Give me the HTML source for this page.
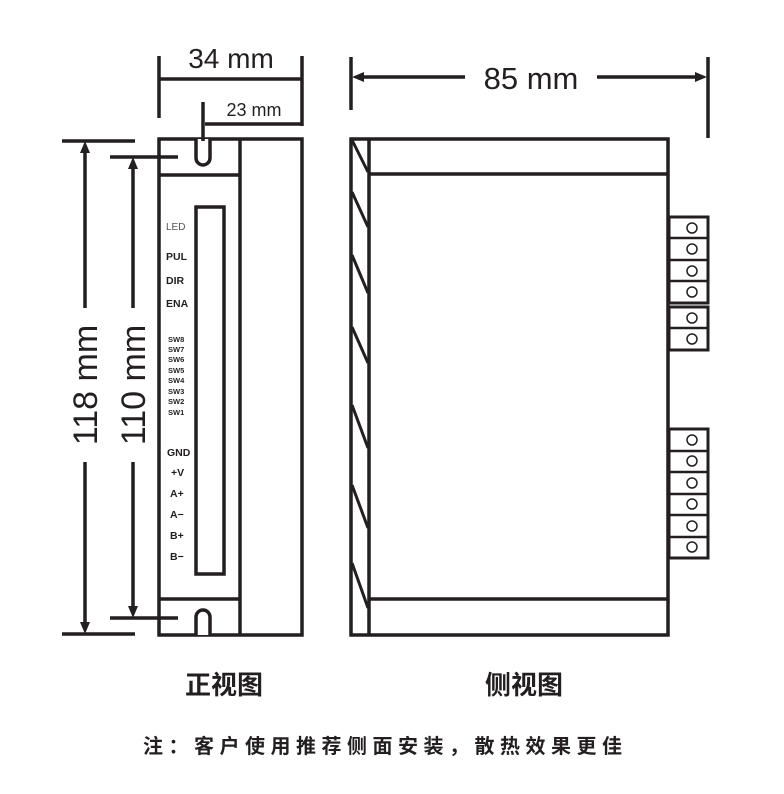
<!DOCTYPE html>
<html><head><meta charset="utf-8"><style>
body{margin:0;background:#fff;width:784px;height:794px;overflow:hidden}
svg{display:block}
.t{font-family:"Liberation Sans","Noto Sans CJK SC",sans-serif;fill:#231f20}
.c{font-family:"Noto Sans CJK SC",sans-serif;font-weight:bold;fill:#231f20}
.l{font-family:"Liberation Sans",sans-serif;font-weight:bold;fill:#231f20;font-size:10.5px}
.s{font-family:"Liberation Sans",sans-serif;font-weight:bold;fill:#231f20;font-size:7.5px}
</style></head><body>
<svg width="784" height="794" viewBox="0 0 784 794" xmlns="http://www.w3.org/2000/svg">
<g stroke="#231f20" stroke-width="3.5" fill="none">
<rect x="159" y="139" width="143" height="496"/>
<line x1="240" y1="139" x2="240" y2="635"/>
<line x1="159" y1="175" x2="240" y2="175"/>
<line x1="159" y1="599" x2="240" y2="599"/>
<path d="M196 139 V158 a7 7 0 0 0 14 0 V139" fill="#fff"/>
<path d="M196 635 V617 a7 7 0 0 1 14 0 V635" fill="#fff"/>
<rect x="196" y="207" width="28" height="367"/>
<line x1="159" y1="56" x2="159" y2="118"/>
<line x1="302" y1="56" x2="302" y2="126"/>
<line x1="159" y1="79" x2="302" y2="79"/>
<line x1="203" y1="102" x2="203" y2="141"/>
<line x1="205" y1="124" x2="302" y2="124"/>
<line x1="62" y1="141" x2="135" y2="141"/>
<line x1="62" y1="634" x2="135" y2="634"/>
<line x1="85" y1="150" x2="85" y2="308"/>
<line x1="85" y1="462" x2="85" y2="625"/>
<line x1="110" y1="157" x2="178" y2="157"/>
<line x1="110" y1="618" x2="178" y2="618"/>
<line x1="133" y1="166" x2="133" y2="308"/>
<line x1="133" y1="462" x2="133" y2="609"/>
<rect x="351" y="139" width="317" height="496"/>
<line x1="369" y1="139" x2="369" y2="635"/>
<line x1="369" y1="174" x2="668" y2="174"/>
<line x1="369" y1="599" x2="668" y2="599"/>
<line x1="351" y1="57" x2="351" y2="110"/>
<line x1="708" y1="57" x2="708" y2="138"/>
<line x1="360" y1="77" x2="465" y2="77"/>
<line x1="597" y1="77" x2="698" y2="77"/>
</g>
<g stroke="#231f20" stroke-width="3" fill="none">
<line x1="352" y1="140" x2="368" y2="172"/>
<line x1="352" y1="192" x2="368" y2="227"/>
<line x1="352" y1="255" x2="368" y2="293"/>
<line x1="352" y1="327" x2="368" y2="363"/>
<line x1="352" y1="405" x2="368" y2="448"/>
<line x1="352" y1="485" x2="368" y2="528"/>
<line x1="352" y1="563" x2="368" y2="608"/>
</g>
<g fill="#231f20">
<path d="M85 141 l-5 12 h10z"/><path d="M85 634 l-5 -12 h10z"/>
<path d="M133 157 l-5 12 h10z"/><path d="M133 618 l-5 -12 h10z"/>
<path d="M352 77 l12 -5 v10z"/><path d="M707 77 l-12 -5 v10z"/>
</g>
<g stroke="#231f20" stroke-width="3" fill="#fff">
<rect x="669" y="217" width="39" height="86"/>
<rect x="669" y="307" width="39" height="43"/>
<rect x="669" y="429" width="39" height="129"/>
</g>
<g stroke="#231f20" stroke-width="2.5">
<line x1="669" y1="238" x2="708" y2="238"/><line x1="669" y1="260" x2="708" y2="260"/><line x1="669" y1="281" x2="708" y2="281"/>
<line x1="669" y1="328" x2="708" y2="328"/>
<line x1="669" y1="451" x2="708" y2="451"/><line x1="669" y1="472" x2="708" y2="472"/><line x1="669" y1="494" x2="708" y2="494"/><line x1="669" y1="515" x2="708" y2="515"/><line x1="669" y1="537" x2="708" y2="537"/>
</g>
<g stroke="#231f20" stroke-width="1.5" fill="none">
<circle cx="692" cy="228" r="5"/><circle cx="692" cy="249" r="5"/><circle cx="692" cy="271" r="5"/><circle cx="692" cy="292" r="5"/>
<circle cx="692" cy="318" r="5"/><circle cx="692" cy="339" r="5"/>
<circle cx="692" cy="440" r="5"/><circle cx="692" cy="461" r="5"/><circle cx="692" cy="483" r="5"/><circle cx="692" cy="504" r="5"/><circle cx="692" cy="526" r="5"/><circle cx="692" cy="547" r="5"/>
</g>
<text class="t" x="231" y="68" font-size="28" text-anchor="middle">34 mm</text>
<text class="t" x="254" y="116" font-size="18" text-anchor="middle">23 mm</text>
<text class="t" x="531" y="89" font-size="31" text-anchor="middle">85 mm</text>
<text class="t" font-size="34" text-anchor="middle" transform="translate(97,385) rotate(-90)">118 mm</text>
<text class="t" font-size="34" text-anchor="middle" transform="translate(145,385) rotate(-90)">110 mm</text>
<text x="166" y="230" font-family="Liberation Sans,sans-serif" font-size="10" fill="#555">LED</text>
<text class="l" x="166" y="260">PUL</text>
<text class="l" x="166" y="284">DIR</text>
<text class="l" x="166" y="307">ENA</text>
<text class="s" x="168" y="342">SW8</text><text class="s" x="168" y="352">SW7</text><text class="s" x="168" y="362">SW6</text><text class="s" x="168" y="373">SW5</text><text class="s" x="168" y="383">SW4</text><text class="s" x="168" y="394">SW3</text><text class="s" x="168" y="404">SW2</text><text class="s" x="168" y="415">SW1</text>
<text class="l" x="167" y="456">GND</text>
<text class="l" x="171" y="476">+V</text>
<text class="l" x="170" y="497">A+</text>
<text class="l" x="170" y="518">A−</text>
<text class="l" x="170" y="539">B+</text>
<text class="l" x="170" y="560">B−</text>
<text class="c" x="224" y="694" font-size="26" text-anchor="middle">正视图</text>
<text class="c" x="524" y="694" font-size="26" text-anchor="middle">侧视图</text>
<text class="c" x="143" y="753" font-size="20" letter-spacing="5.5">注：客户使用推荐侧面安装，散热效果更佳</text>
</svg>
</body></html>
